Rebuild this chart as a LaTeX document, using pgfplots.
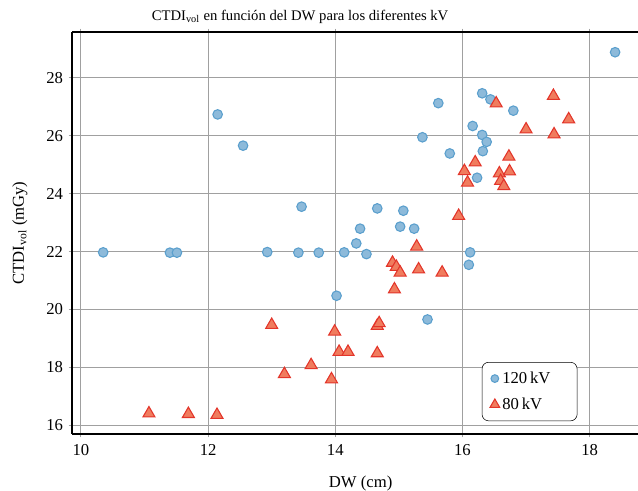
\documentclass[12pt,border=0pt]{standalone}
\usepackage{fontspec}
\setmainfont{Liberation Serif}
\usepackage{pgfplots}
\pgfplotsset{compat=1.18}
\definecolor{bfill}{HTML}{8DBADA}
\definecolor{bedge}{HTML}{5A9FCD}
\definecolor{rfill}{HTML}{F07C5E}
\definecolor{redge}{HTML}{E3352A}
\definecolor{gridc}{HTML}{A0A0A0}
\begin{document}
\begin{tikzpicture}
\begin{axis}[
  scale only axis,
  width=424.5pt, height=301.5pt,
  xmin=9.86, xmax=18.76, ymin=15.69, ymax=29.59,
  xtick={10,12,14,16,18}, ytick={16,18,20,22,24,26,28},
  /pgf/number format/assume math mode=true,
  font=\fontsize{12.5}{15}\selectfont,
  grid=major,
  major grid style={gridc, line width=0.75pt},
  major tick length=5pt, tick align=center,
  tick style={gridc, line width=0.75pt},
  axis x line=box, axis y line=left,
  axis line style={-, black, line width=1pt},
  title={CTDI$_{\mathrm{vol}}$ en función del DW para los diferentes kV},
  every axis title/.style={at={(axis description cs:0.403,1.037)}, anchor=center, font=\fontsize{11}{13}\selectfont},
  xlabel={DW (cm)},
  ylabel={CTDI$_{\mathrm{vol}}$ (mGy)},
  x label style={at={(axis description cs:0.51,-0.122)}, anchor=center},
  y label style={at={(axis description cs:-0.092,0.5)}, anchor=center},
  xticklabel style={yshift=-1pt},
  legend style={at={(0.724,0.032)}, anchor=south west, draw=black, rounded corners=5pt, fill=white, inner xsep=6pt, inner ysep=5pt, row sep=5pt, font=\fontsize{12.5}{15}\selectfont},
  legend cell align=left,
  legend image post style={scale=0.8},
]
\addplot[only marks, mark=*, mark size=3.6pt, mark options={fill=bfill, draw=bedge, line width=0.8pt}] coordinates {
(10.35,21.97) (11.40,21.96) (11.51,21.96) (12.15,26.74) (12.55,25.66)
(12.93,21.98) (13.42,21.96) (13.47,23.55) (13.74,21.96) (14.02,20.47)
(14.14,21.97) (14.33,22.28) (14.39,22.79) (14.49,21.91) (14.66,23.49)
(15.02,22.86) (15.07,23.41) (15.24,22.79) (15.37,25.95) (15.45,19.65)
(15.62,27.13) (15.80,25.39) (16.10,21.54) (16.12,21.97) (16.16,26.34)
(16.23,24.55) (16.31,27.47) (16.31,26.03) (16.32,25.47) (16.38,25.79)
(16.44,27.26) (16.80,26.87) (18.40,28.89)
};
\addlegendentry{120\,kV\hspace*{12pt}}
\addplot[only marks, mark=triangle*, mark size=5.2pt, mark options={fill=rfill, draw=redge, line width=0.8pt}] coordinates {
(11.07,16.40) (11.69,16.38) (12.14,16.35) (13.00,19.46) (13.20,17.76)
(13.62,18.07) (13.94,17.58) (13.99,19.23) (14.06,18.53) (14.20,18.53)
(14.66,18.48) (14.66,19.43) (14.69,19.52) (14.90,21.61) (14.93,20.69)
(14.96,21.47) (15.02,21.27) (15.28,22.17) (15.31,21.38) (15.68,21.27)
(15.94,23.23) (16.03,24.78) (16.08,24.38) (16.20,25.08) (16.53,27.12)
(16.58,24.70) (16.60,24.44) (16.65,24.26) (16.73,25.28) (16.74,24.77)
(17.00,26.22) (17.43,27.38) (17.44,26.05) (17.67,26.57)
};
\addlegendentry{80\,kV}
\end{axis}
\pgfresetboundingbox
\path[use as bounding box] ([xshift=-54pt,yshift=-42.75pt]current axis.south west) rectangle ([yshift=24pt]current axis.north east);
\end{tikzpicture}
\end{document}
